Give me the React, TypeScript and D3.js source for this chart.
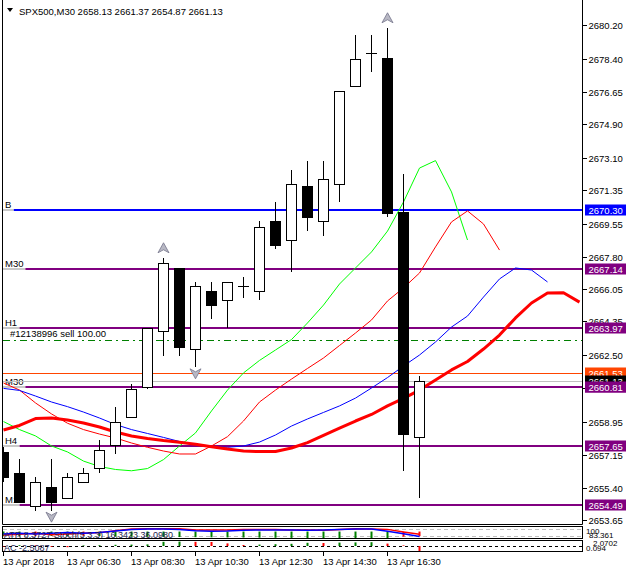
import * as d3 from "d3";
import React from "react";

const WIDTH = 626;
const HEIGHT = 572;
const FONT = "'Liberation Sans', Arial, sans-serif";

// header
const symbolName = "SPX500,M30";
const lastOHLC = [2658.13, 2661.37, 2654.87, 2661.13];

// M30 bars, first one at 04:30
const opens = [2657.32, 2656.17, 2654.44, 2655.42, 2654.83, 2655.69, 2656.44, 2657.68, 2659.18, 2660.79, 2663.79, 2667.17, 2662.83, 2665.94, 2665.46, 2666.21, 2665.95, 2669.71, 2668.69, 2671.59, 2669.71, 2671.70, 2676.94, 2678.71, 2678.44, 2670.19, 2658.13];
const highs = [2657.59, 2656.93, 2655.96, 2656.93, 2656.17, 2656.44, 2657.94, 2659.72, 2660.95, 2663.95, 2667.71, 2667.17, 2666.42, 2666.42, 2666.42, 2666.69, 2669.71, 2670.71, 2672.43, 2672.93, 2672.93, 2676.67, 2679.69, 2679.69, 2680.05, 2672.23, 2661.37];
const lows = [2655.71, 2654.58, 2654.17, 2654.17, 2654.83, 2655.69, 2656.17, 2657.19, 2659.18, 2660.68, 2662.45, 2662.45, 2661.86, 2664.44, 2663.95, 2665.56, 2665.47, 2668.19, 2666.96, 2669.19, 2668.92, 2670.71, 2676.94, 2677.69, 2669.91, 2656.31, 2654.87];
const closes = [2655.98, 2654.65, 2655.69, 2654.65, 2655.96, 2656.17, 2657.41, 2658.91, 2660.68, 2663.95, 2667.44, 2662.93, 2666.21, 2665.19, 2666.42, 2666.21, 2669.40, 2668.42, 2671.68, 2669.91, 2671.95, 2676.67, 2678.42, 2678.71, 2670.16, 2658.30, 2661.13];

// moving averages (shifted forward, so they run past the last bar)
const maGreen = [2658.95, 2658.52, 2658.18, 2657.64, 2657.32, 2656.83, 2656.54, 2656.38, 2656.31, 2656.43, 2656.91, 2657.64, 2658.34, 2659.52, 2660.64, 2661.56, 2662.23, 2662.79, 2663.35, 2664.24, 2665.20, 2666.33, 2667.19, 2668.05, 2669.17, 2670.73, 2672.55, 2672.95, 2671.27, 2668.69];
const maRed = [2661.02, 2660.64, 2659.95, 2659.36, 2658.86, 2658.52, 2658.28, 2658.07, 2657.80, 2657.57, 2657.37, 2657.21, 2657.21, 2657.64, 2658.14, 2658.98, 2660.00, 2660.64, 2661.23, 2661.80, 2662.36, 2663.03, 2663.70, 2664.40, 2665.42, 2666.12, 2666.92, 2668.32, 2669.66, 2670.25, 2669.55, 2668.15];
const maBlue = [2660.73, 2660.62, 2660.32, 2660.00, 2659.75, 2659.46, 2659.14, 2658.79, 2658.52, 2658.31, 2658.10, 2657.88, 2657.72, 2657.61, 2657.57, 2657.64, 2657.85, 2658.23, 2658.71, 2659.09, 2659.44, 2659.79, 2660.21, 2660.75, 2661.31, 2661.93, 2662.52, 2663.22, 2664.02, 2664.61, 2665.63, 2666.60, 2667.19, 2667.08, 2666.44];
const maThick = [2658.50, 2658.74, 2659.11, 2659.14, 2659.03, 2658.87, 2658.66, 2658.39, 2658.18, 2658.04, 2657.93, 2657.84, 2657.73, 2657.60, 2657.48, 2657.37, 2657.34, 2657.34, 2657.53, 2657.82, 2658.21, 2658.60, 2658.98, 2659.33, 2659.79, 2660.19, 2660.64, 2661.18, 2661.72, 2662.17, 2662.84, 2663.59, 2664.51, 2665.31, 2665.85, 2665.86, 2665.36];

// fractal arrows (bar indexes)
const fractalUp = [10, 24];
const fractalDown = [3, 12];

// horizontal levels
const buyLevel = 2670.30;
const buyTag = "B";
const zoneLevels = [2667.14, 2663.97, 2660.81, 2657.65, 2654.49];
const zoneTags = ["M30", "H1", "M30", "H4", "M1"];
const orderLevel = 2663.33;
const orderText = "#12138996 sell 100.00";
const alertLevel = 2661.53;
const bidLevel = 2661.13;

// axes
const priceTicks = [2680.20, 2678.40, 2676.65, 2674.90, 2673.10, 2671.35, 2669.55, 2667.80, 2666.05, 2664.35, 2662.50, 2660.75, 2658.95, 2657.15, 2655.40, 2653.65];
const timeTickBars = [0, 4, 8, 12, 16, 20, 24];
const timeLabels = ["13 Apr 2018", "13 Apr 06:30", "13 Apr 08:30", "13 Apr 10:30", "13 Apr 12:30", "13 Apr 14:30", "13 Apr 16:30"];

// sub window 1
const stochMain = [37.5, 43, 37.5, 43, 49, 43, 49, 62, 76, 79, 79, 76, 65, 60, 62, 68, 71, 71, 71, 68, 71, 74, 79, 79, 60, 40, 16.34];
const stochSignal = [29, 35, 43, 32, 37.5, 43, 49, 65, 79, 82, 82, 82, 71, 71, 71, 74, 74, 74, 71, 71, 68, 74, 82, 79, 76, 54, 36.1];
const atrBars = [46, 45, 47, 46, 45, 47, 46, 41, 40, 39, 38, 37, 36, 35, 34, 33, 32, 31, 30, 29, 28, 27, 26, 25, 24, 40, 45];
const pane1Text = "ATR 8.3727  Stoch(5,3,3) 16.3423 36.0980";

// sub window 2
const acValues = [-0.3, 0.4, 0.3, -0.4, -0.6, 0.3, 0.4, 0.6, 0.7, 0.8, 2.1, 2.2, 2.1, 2.0, 1.3, 0.5, 0.7, 0.9, 1.1, 1.6, 1.5, 1.7, 1.8, 1.9, 1.2, 0.3, -2.5087];
const acText = "AC -2.5087";

const x = d3.scaleLinear().domain([0, 36]).range([3, 579]);
const y = d3.scaleLinear().domain([2654.49, 2670.30]).range([504.7, 210]);
const yStoch = d3.scaleLinear().domain([0, 100]).range([538.5, 526.5]);
const yAc = d3.scaleLinear().domain([-1, 1]).range([548, 544]);

const snap = (v: number) => Math.round(v) + 0.5;

const maPath = (values: number[]) =>
  d3
    .line<number>()
    .x((_, i) => x(i) + 0.5)
    .y((v) => y(v))(values) || "";

const stochPath = (values: number[]) =>
  d3
    .line<number>()
    .x((_, i) => x(i) + 0.5)
    .y((v) => yStoch(v))(values) || "";

const upArrow = "M0,-5 L5.5,5 L0,2 L-5.5,5 Z";
const downArrow = "M0,5 L5.5,-5 L0,-2 L-5.5,-5 Z";

const LevelLabel: React.FC<{ price: number; tag: string; color: string }> = ({ price, tag, color }) => {
  const ly = Math.round(y(price));
  const w = tag.length * 5.8 + 3;
  return (
    <g>
      <line x1={3} x2={5 + w} y1={ly} y2={ly} stroke="#c8c8c8" strokeWidth={2} />
      <line x1={5 + w} x2={583} y1={ly} y2={ly} stroke={color} strokeWidth={2} />
      <text x={5} y={ly - 2} fontSize={9.5} fontFamily={FONT} fill="#000">
        {tag}
      </text>
    </g>
  );
};

const PriceBox: React.FC<{ price: number; color: string }> = ({ price, color }) => {
  const ly = Math.round(y(price));
  return (
    <g>
      <rect x={585} y={ly - 5.5} width={41} height={11} fill={color} />
      <text x={588.5} y={ly + 3.5} fontSize={9.5} fontFamily={FONT} fill="#fff">
        {price.toFixed(2)}
      </text>
    </g>
  );
};

export default function App() {
  const bars = d3.range(opens.length);

  return (
    <svg
      width={WIDTH}
      height={HEIGHT}
      style={{ position: "absolute", left: 0, top: 0, background: "#fff" }}
    >
      <defs>
        <clipPath id="main">
          <rect x={3} y={0} width={579} height={524} />
        </clipPath>
        <clipPath id="sub1">
          <rect x={3} y={527} width={579} height={11} />
        </clipPath>
        <clipPath id="sub2">
          <rect x={3} y={541} width={579} height={10} />
        </clipPath>
      </defs>
      <rect width={WIDTH} height={HEIGHT} fill="#fff" />

      <g clipPath="url(#main)">
        {/* levels */}
        <LevelLabel price={buyLevel} tag={buyTag} color="#0000ff" />
        {zoneLevels.map((p, i) => (
          <LevelLabel key={i} price={p} tag={zoneTags[i]} color="#800080" />
        ))}
        <line
          x1={3}
          x2={583}
          y1={snap(y(orderLevel))}
          y2={snap(y(orderLevel))}
          stroke="#008000"
          strokeDasharray="7,4,2,4"
        />
        <text x={10} y={Math.round(y(orderLevel)) - 3} fontSize={9.5} fontFamily={FONT} fill="#000">
          {orderText}
        </text>
        <line x1={3} x2={583} y1={snap(y(alertLevel))} y2={snap(y(alertLevel))} stroke="#ff4500" />
        <line x1={3} x2={583} y1={snap(y(bidLevel))} y2={snap(y(bidLevel))} stroke="#c0c0c0" />

        {/* moving averages */}
        <path d={maPath(maGreen)} fill="none" stroke="#00ff00" strokeWidth={1} />
        <path d={maPath(maRed)} fill="none" stroke="#ff0000" strokeWidth={1} />
        <path d={maPath(maBlue)} fill="none" stroke="#0000ff" strokeWidth={1} />
        <path d={maPath(maThick)} fill="none" stroke="#ff0000" strokeWidth={3} strokeLinejoin="round" />

        {/* candles */}
        {bars.map((i) => {
          const cx = x(i);
          const o = opens[i];
          const c = closes[i];
          const top = Math.round(y(Math.max(o, c)));
          const bottom = Math.round(y(Math.min(o, c)));
          const bear = o > c;
          return (
            <g key={i}>
              <line
                x1={cx + 0.5}
                x2={cx + 0.5}
                y1={Math.round(y(highs[i]))}
                y2={Math.round(y(lows[i]))}
                stroke="#000"
              />
              {bottom - top < 1 ? (
                <line x1={cx - 5} x2={cx + 6} y1={top + 0.5} y2={top + 0.5} stroke="#000" />
              ) : (
                <rect
                  x={cx - 4.5}
                  y={top + 0.5}
                  width={10}
                  height={bottom - top}
                  fill={bear ? "#000" : "#fff"}
                  stroke="#000"
                />
              )}
            </g>
          );
        })}

        {/* fractals */}
        {fractalUp.map((i) => (
          <path
            key={"u" + i}
            d={upArrow}
            transform={`translate(${x(i) + 0.5},${y(highs[i]) - 10.5})`}
            fill="#b8b8c4"
            stroke="#74748a"
            strokeWidth={0.8}
          />
        ))}
        {fractalDown.map((i) => (
          <path
            key={"d" + i}
            d={downArrow}
            transform={`translate(${x(i) + 0.5},${y(lows[i]) + 6.5})`}
            fill="#b8b8c4"
            stroke="#74748a"
            strokeWidth={0.8}
          />
        ))}
      </g>

      {/* header */}
      <path d="M7,8 L13,8 L10,12 Z" fill="#000" />
      <text x={19} y={14.5} fontSize={9.5} fontFamily={FONT} fill="#000">
        {`${symbolName}  ${lastOHLC.map((v) => v.toFixed(2)).join(" ")}`}
      </text>

      {/* sub window 1 */}
      <g clipPath="url(#sub1)">
        <line x1={3} x2={583} y1={snap(yStoch(80))} y2={snap(yStoch(80))} stroke="#c0c0c0" strokeDasharray="4,3" />
        <line x1={3} x2={583} y1={snap(yStoch(20))} y2={snap(yStoch(20))} stroke="#c0c0c0" strokeDasharray="4,3" />
        {atrBars.map((v, i) => (
          <line
            key={i}
            x1={x(i) + 0.5}
            x2={x(i) + 0.5}
            y1={yStoch(58)}
            y2={yStoch(v) + 3}
            stroke={i > 0 && v > atrBars[i - 1] ? "#ff0000" : "#008000"}
            strokeWidth={2}
          />
        ))}
        <path d={stochPath(stochSignal)} fill="none" stroke="#ff0000" strokeWidth={1.5} />
        <path d={stochPath(stochMain)} fill="none" stroke="#0000ff" strokeWidth={1.5} />
        <text x={4} y={538} fontSize={9} fontFamily={FONT} fill="#1e1e50">
          {pane1Text}
        </text>
      </g>

      {/* sub window 2 */}
      <g clipPath="url(#sub2)">
        <line x1={3} x2={583} y1={snap(yAc(0))} y2={snap(yAc(0))} stroke="#000" strokeDasharray="3,3" />
        {acValues.map((v, i) => {
          const y0 = yAc(0);
          const y1 = yAc(v);
          return (
            <rect
              key={i}
              x={x(i) - 0.5}
              y={Math.min(y0, y1)}
              width={2}
              height={Math.abs(y1 - y0)}
              fill={i > 0 && v > acValues[i - 1] ? "#008000" : "#ff0000"}
            />
          );
        })}
        <text x={4} y={551} fontSize={9} fontFamily={FONT} fill="#1e1e50">
          {acText}
        </text>
      </g>

      {/* frames */}
      <path d="M2.5,0 V524.5 H582.5 V0" fill="none" stroke="#000" />
      <rect x={2.5} y={526.5} width={580} height={12} fill="none" stroke="#000" />
      <rect x={2.5} y={540.5} width={580} height={11} fill="none" stroke="#000" />

      {/* price axis */}
      {priceTicks.map((p) => (
        <g key={p}>
          <line x1={583} x2={587} y1={snap(y(p))} y2={snap(y(p))} stroke="#000" />
          <text x={588.5} y={Math.round(y(p)) + 4} fontSize={9.5} fontFamily={FONT} fill="#000">
            {p.toFixed(2)}
          </text>
        </g>
      ))}
      <PriceBox price={buyLevel} color="#0000ff" />
      {zoneLevels.map((p) => (
        <PriceBox key={p} price={p} color="#800080" />
      ))}
      <PriceBox price={alertLevel} color="#ff4500" />
      <PriceBox price={bidLevel} color="#000000" />
      <PriceBox price={zoneLevels[2]} color="#800080" />

      {/* sub window scales */}
      <text x={586} y={534} fontSize={8} fontFamily={FONT} fill="#000">100</text>
      <text x={589} y={537.5} fontSize={8} fontFamily={FONT} fill="#000">83.361</text>
      <text x={593} y={546} fontSize={8} fontFamily={FONT} fill="#000">2.0702</text>
      <text x={586} y={550.5} fontSize={8} fontFamily={FONT} fill="#000">0.094</text>

      {/* time axis */}
      {timeTickBars.map((b, k) => (
        <g key={b}>
          <line x1={x(b) + 0.5} x2={x(b) + 0.5} y1={552} y2={556} stroke="#000" />
          <text x={x(b)} y={564.5} fontSize={9.5} fontFamily={FONT} fill="#000">
            {timeLabels[k]}
          </text>
        </g>
      ))}
    </svg>
  );
}
